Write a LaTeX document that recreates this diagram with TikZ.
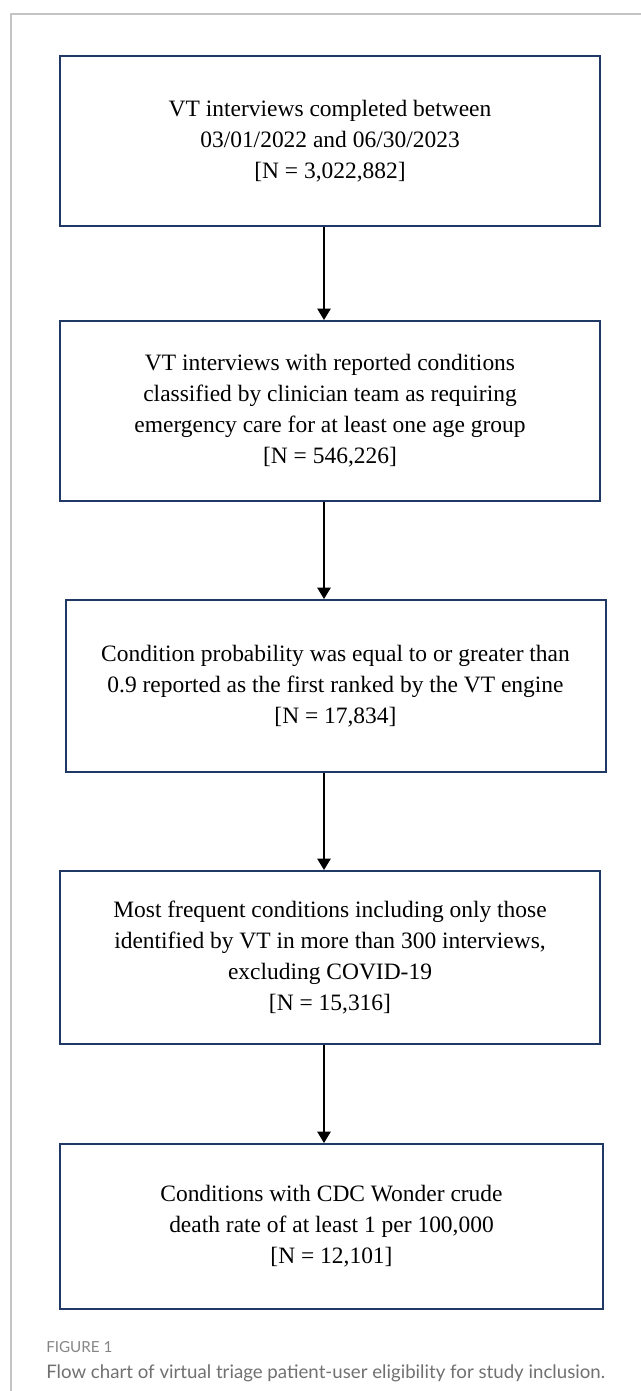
\documentclass[tikz,border=0pt]{standalone}
\usepackage{fontspec}
\setmainfont{Liberation Serif}
\newfontfamily\capfont{Lato}
\usetikzlibrary{arrows.meta}
\definecolor{boxnavy}{HTML}{1F3864}
\definecolor{framegrey}{HTML}{C4C4C4}
\definecolor{capgrey}{HTML}{707070}

\begin{document}
\begin{tikzpicture}[x=0.75pt, y=-0.75pt,
  flowbox/.style={draw=boxnavy, line width=1.5pt, align=center, minimum width=405pt,
    inner sep=0pt, font=\fontsize{17.6}{23.2}\selectfont},
  flowarrow/.style={-{Triangle[width=10pt, length=8.5pt]}, line width=1.1pt, black}]
  \useasboundingbox (0,0) rectangle (641,1391);

  % --- outer frame ---
  \draw[framegrey, line width=1.1pt] (641,14) -- (11,14) -- (11,1391);

  % --- boxes, top to bottom ---
  \node[flowbox, minimum height=127.5pt] (completed) at (330,141)
    {VT interviews completed between\\03/01/2022 and 06/30/2023\\{[N = 3,022,882]}};
  \node[flowbox, minimum height=135pt] (emergency) at (330,411)
    {VT interviews with reported conditions\\classified by clinician team as requiring\\emergency care for at least one age group\\{[N = 546,226]}};
  \node[flowbox, minimum height=129pt] (probability) at (335.5,686)
    {Condition probability was equal to or greater than\\0.9 reported as the first ranked by the VT engine\\{[N = 17,834]}};
  \node[flowbox, minimum height=129.75pt] (frequent) at (330,957.5)
    {Most frequent conditions including only those\\identified by VT in more than 300 interviews,\\excluding COVID-19\\{[N = 15,316]}};
  \node[flowbox, minimum height=123.75pt, minimum width=407pt] (deathrate) at (331.5,1226.5)
    {Conditions with CDC Wonder crude\\death rate of at least 1 per 100,000\\{[N = 12,101]}};

  % --- arrows between boxes ---
  \coordinate (spine) at (324,0);
  \draw[flowarrow] (completed.south -| spine) -- (emergency.north -| spine);
  \draw[flowarrow] (emergency.south -| spine) -- (probability.north -| spine);
  \draw[flowarrow] (probability.south -| spine) -- (frequent.north -| spine);
  \draw[flowarrow] (frequent.south -| spine) -- (deathrate.north -| spine);

  % --- caption ---
  \node[anchor=base west, inner sep=0pt, text=capgrey!85, font=\capfont\fontsize{11.4}{13}\selectfont] (figlabel) at (46,1352) {FIGURE 1};
  \node[anchor=base west, inner sep=0pt, text=capgrey, font=\capfont\fontsize{14}{16}\selectfont] (figcaption) at (46,1378)
    {Flow chart of virtual triage patient-user eligibility for study inclusion.};
\end{tikzpicture}
\end{document}
